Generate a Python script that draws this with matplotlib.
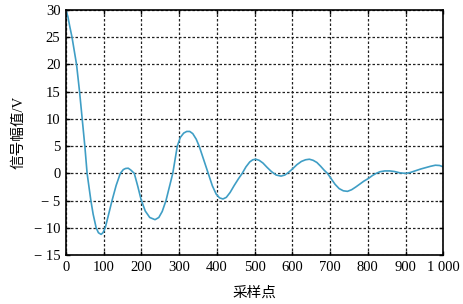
import matplotlib
matplotlib.use("Agg")
import matplotlib.pyplot as plt
from matplotlib.ticker import FuncFormatter

sample_idx = [0, 5, 10, 16, 22, 28, 36, 43, 50, 56, 61, 66, 72, 80, 86, 93, 98, 104, 112, 122,
              133, 144, 152, 158, 165, 172, 181, 190, 199, 210, 222, 236, 246, 255, 265, 274,
              283, 289, 295, 303, 312, 320, 328, 336, 345, 353, 365, 377, 388, 398, 407, 416,
              425, 435, 446, 457, 467, 477, 487, 495, 503, 512, 522, 533, 545, 557, 570, 580,
              590, 600, 612, 624, 635, 645, 655, 665, 675, 684, 693, 703, 713, 724, 735, 746,
              757, 768, 780, 790, 800, 812, 822, 832, 845, 858, 870, 885, 900, 912, 927, 940,
              953, 966, 979, 990, 1000]
amplitude = [30, 28.8, 27, 25, 22.5, 20, 15, 10, 5, 0, -2.5, -5, -7.5, -10, -10.9, -11.2, -10.9,
             -10, -7.8, -5, -2.2, 0, 0.7, 0.9, 0.95, 0.6, 0, -2.3, -4.8, -6.9, -8.1, -8.5, -8.1, -7,
             -5, -2.5, 0, 2.5, 5, 6.6, 7.4, 7.7, 7.7, 7.3, 6.3, 5, 2.5, 0, -2.3, -3.8, -4.5, -4.7,
             -4.4, -3.5, -2.2, -1, 0, 1.2, 2.1, 2.5, 2.6, 2.4, 1.9, 1.1, 0.3, -0.3, -0.5, -0.3,
             0.2, 0.8, 1.6, 2.2, 2.5, 2.6, 2.4, 2.0, 1.3, 0.6, 0, -1, -2, -2.8, -3.2, -3.3,
             -3.0, -2.5, -1.9, -1.4, -1.0, -0.4, 0, 0.3, 0.45, 0.45, 0.35, 0.1, 0.0, 0.15, 0.5,
             0.8, 1.05, 1.3, 1.5, 1.45, 1.2]

x_ticks = [0, 100, 200, 300, 400, 500, 600, 700, 800, 900, 1000]
y_ticks = [-15, -10, -5, 0, 5, 10, 15, 20, 25, 30]
x_label = "采样点"
y_label = "信号幅值/V"

plt.rcParams['font.family'] = ['Liberation Serif', 'Noto Sans CJK SC']

fig = plt.figure(figsize=(4.63, 3.04), dpi=100)
ax = fig.add_axes([0.1425, 0.161, 0.815, 0.806])
ax.plot(sample_idx, amplitude, color='#3F9EC5', lw=1.2)
ax.set_xlim(0, 1000)
ax.set_ylim(-15, 30)
ax.set_xticks(x_ticks)
ax.set_yticks(y_ticks)

def xfmt(v, pos):
    v = int(round(v))
    return "1 000" if v == 1000 else str(v)

def yfmt(v, pos):
    v = int(round(v))
    return ("\u2212 " + str(-v)) if v < 0 else str(v)

ax.xaxis.set_major_formatter(FuncFormatter(xfmt))
ax.yaxis.set_major_formatter(FuncFormatter(yfmt))
ax.grid(True, color='#222222', linestyle=(0, (2, 1.6)), lw=0.9)
ax.tick_params(direction='in', length=3, width=1, labelsize=10.5, top=True, right=True,
               colors='black', pad=4)
for s in ax.spines.values():
    s.set_linewidth(1.2)
ax.set_xlabel(x_label, fontsize=10.5, labelpad=9)
ax.set_ylabel(y_label, fontsize=10.5, labelpad=6)
fig.savefig("out.png", dpi=100)
